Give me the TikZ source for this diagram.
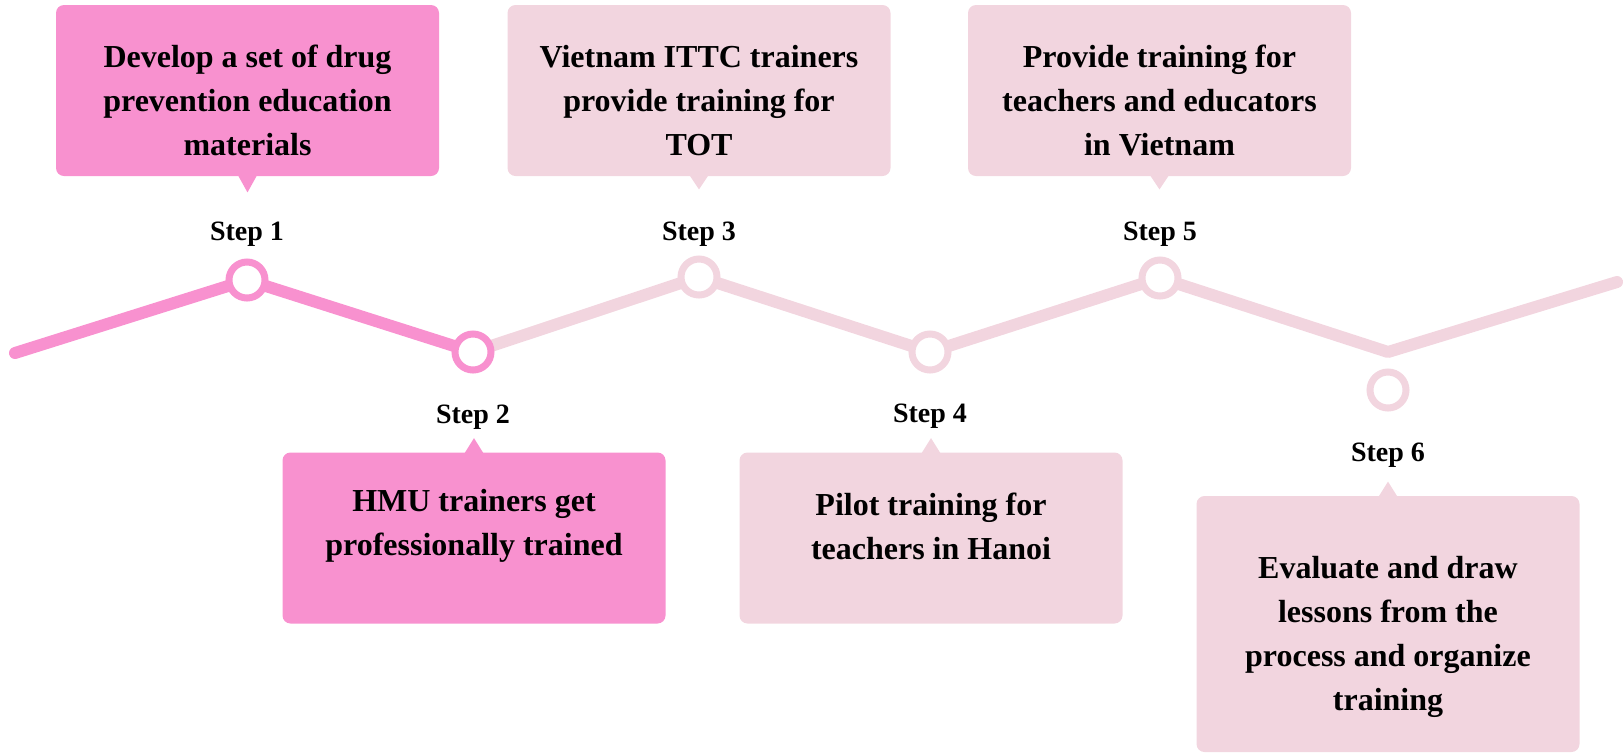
\documentclass[tikz,border=0pt]{standalone}
\usepackage{fontspec}
\setmainfont{Liberation Serif}
\usepackage{tikz}
\usetikzlibrary{positioning, backgrounds}
\definecolor{hotpink}{RGB}{248,145,207}
\definecolor{palepink}{RGB}{242,213,223}
\tikzstyle{card} = [rounded corners=4pt, minimum width=191.5pt, minimum height=85.5pt, inner sep=0pt]
\tikzstyle{cardtext} = [align=center, inner sep=0pt, font=\bfseries\fontsize{16}{22}\selectfont]
\tikzstyle{steplabel} = [font=\bfseries\fontsize{14}{16}\selectfont]
\tikzstyle{ring} = [circle, line width=3.5pt, fill=white, minimum size=18pt, inner sep=0pt]
\tikzstyle{track} = [line width=6pt, line cap=round, line join=round]

\begin{document}
\begin{tikzpicture}[x=0.5pt, y=-0.5pt]
        \useasboundingbox (0,0) rectangle (1623,752);

        % Step circles
        \node[ring, draw=hotpink] (c1) at (247,280) {};
        \node[ring, draw=hotpink] (c2) at (473,352) {};
        \node[ring, draw=palepink] (c3) at (699,277) {};
        \node[ring, draw=palepink] (c4) at (930,352) {};
        \node[ring, draw=palepink] (c5) at (1160,278) {};
        \node[ring, draw=palepink] (c6) at (1388,390) {};
        \coordinate (v0) at (15,353);
        \coordinate (v6) at (1388,352);
        \coordinate (v7) at (1617,282);

        % Zigzag line
        \begin{scope}[on background layer]
            \draw[track, palepink] (c2.center) -- (c3.center) -- (c4.center) -- (c5.center) -- (v6) -- (v7);
            \draw[track, hotpink] (v0) -- (c1.center) -- (c2.center);
        \end{scope}

        % Step labels
        \node[steplabel] (s1) at (247,234) {Step 1};
        \node[steplabel] (s2) at (473,417) {Step 2};
        \node[steplabel] (s3) at (699,234) {Step 3};
        \node[steplabel] (s4) at (930,416) {Step 4};
        \node[steplabel] (s5) at (1160,234) {Step 5};
        \node[steplabel] (s6) at (1388,455) {Step 6};

        % Boxes above the line
        \node[card, fill=hotpink] (b1) at (247.5,90.5) {};
        \node[card, fill=palepink] (b3) at (699,90.5) {};
        \node[card, fill=palepink] (b5) at (1159.5,90.5) {};
        \fill[hotpink] ([xshift=-5pt,yshift=1pt]b1.south) -- ++(10,18) -- ++(10,-18) -- cycle;
        \fill[palepink] ([xshift=-5pt,yshift=1pt]b3.south) -- ++(10,15) -- ++(10,-15) -- cycle;
        \fill[palepink] ([xshift=-5pt,yshift=1pt]b5.south) -- ++(10,15) -- ++(10,-15) -- cycle;
        \node[cardtext] (t1) at ([yshift=-5pt]b1.center) {Develop a set of drug\\prevention education\\materials};
        \node[cardtext] (t3) at ([yshift=-5pt]b3.center) {Vietnam ITTC trainers\\provide training for\\TOT};
        \node[cardtext] (t5) at ([yshift=-5pt]b5.center) {Provide training for\\teachers and educators\\in Vietnam};

        % Boxes below the line
        \node[card, fill=hotpink] (b2) at (474,538) {};
        \node[card, fill=palepink] (b4) at (931,538) {};
        \node[card, fill=palepink, minimum height=128pt] (b6) at (1388,624) {};
        \fill[hotpink] ([xshift=-5pt,yshift=-1pt]b2.north) -- ++(10,-16) -- ++(10,16) -- cycle;
        \fill[palepink] ([xshift=-5pt,yshift=-1pt]b4.north) -- ++(10,-16) -- ++(10,16) -- cycle;
        \fill[palepink] ([xshift=-5pt,yshift=-1pt]b6.north) -- ++(10,-16) -- ++(10,16) -- cycle;
        \node[cardtext] (t2) at ([yshift=6pt]b2.center) {HMU trainers get\\professionally trained};
        \node[cardtext] (t4) at ([yshift=6pt]b4.center) {Pilot training for\\teachers in Hanoi};
        \node[cardtext] (t6) at ([yshift=-6.5pt]b6.center) {Evaluate and draw\\lessons from the\\process and organize\\training};
\end{tikzpicture}
\end{document}
